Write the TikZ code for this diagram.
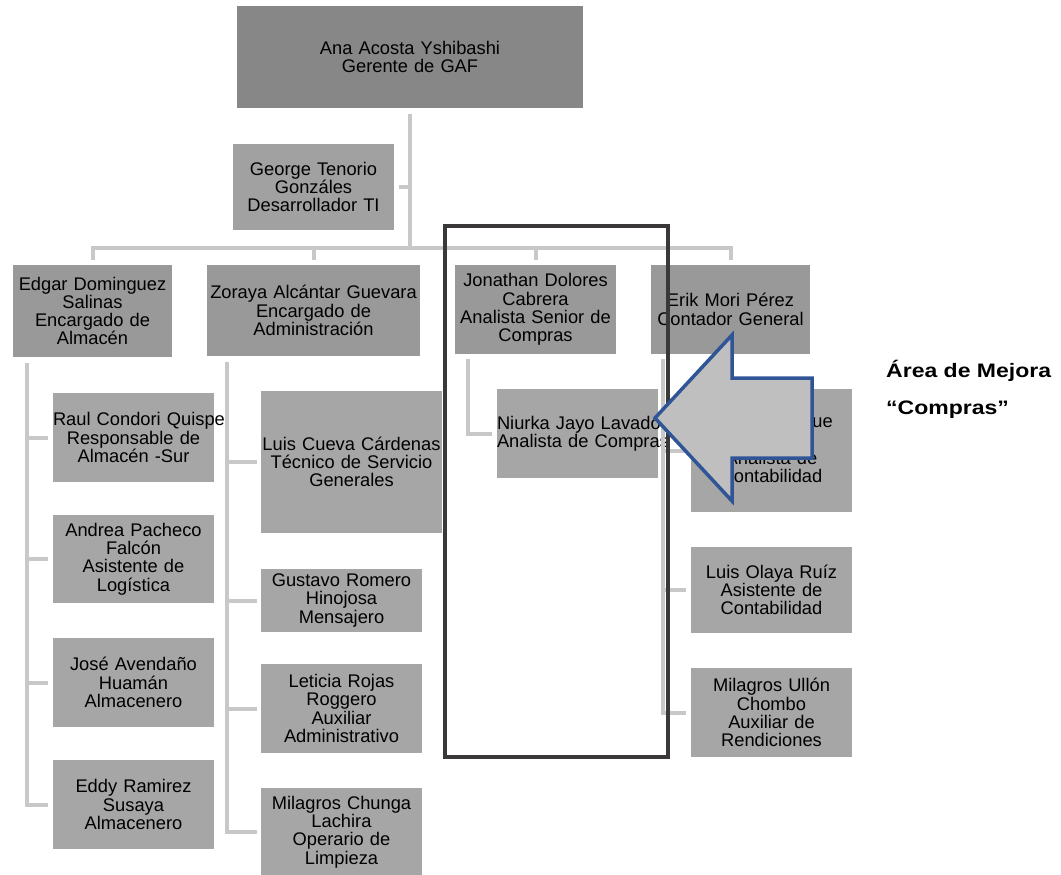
\documentclass[tikz,border=0pt]{standalone}
\usepackage{fontspec}
\setmainfont{Liberation Sans}
\newfontfamily\notefont[FakeStretch=1.18]{Liberation Sans}
\usetikzlibrary{calc}

\definecolor{headgray}{HTML}{878787}
\definecolor{leadgray}{HTML}{999999}
\definecolor{aidegray}{HTML}{A1A1A1}
\definecolor{staffgray}{HTML}{A6A6A6}
\definecolor{linegray}{HTML}{C8C8C8}
\definecolor{framegray}{HTML}{3A3838}
\definecolor{arrowblue}{HTML}{2F5597}
\definecolor{arrowfill}{HTML}{BFBFBF}

% keeps a long line on one row (it may run past its box)
\newcommand\oneline[1]{\mbox{#1}}

\begin{document}
\begin{tikzpicture}[x=1pt,y=-1pt,
  conn/.style={draw=linegray, line width=4pt},
  card/.style={rectangle, inner sep=0pt, align=center, text=black,
    font=\fontsize{18.3}{18.3}\selectfont},
  head/.style={card, fill=headgray},
  lead/.style={card, fill=leadgray},
  aide/.style={card, fill=aidegray},
  staff/.style={card, fill=staffgray},
  frame/.style={draw=framegray, line width=3.5pt, inner sep=0pt},
  bigarrow/.style={draw=arrowblue, fill=arrowfill, line width=3.5pt, line join=miter},
  note/.style={inner sep=0pt, text=black,
    font=\notefont\bfseries\fontsize{19.5}{22}\selectfont},
]
\useasboundingbox (0,0) rectangle (1061,875);

% ---------- boxes ----------
\node[head, text width=346pt, minimum height=102pt] (ana) at (410,57)
  {Ana Acosta Yshibashi\\Gerente de GAF};
\node[aide, text width=161pt, minimum height=86pt] (george) at (313.5,187)
  {George Tenorio\\Gonzáles\\Desarrollador TI};

\node[lead, text width=159pt, minimum height=92pt] (edgar) at (92.5,311)
  {Edgar Dominguez\\Salinas\\Encargado de\\Almacén};
\node[lead, text width=213pt, minimum height=91pt] (zoraya) at (313.5,310.5)
  {Zoraya Alcántar Guevara\\Encargado de\\Administración};
\node[lead, text width=161pt, minimum height=89pt] (jonathan) at (535.5,309.5)
  {Jonathan Dolores\\Cabrera\\Analista Senior de\\Compras};
\node[lead, text width=159pt, minimum height=89pt] (erik) at (730.5,309.5)
  {Erik Mori Pérez\\Contador General};

% Almacén
\node[staff, text width=161pt, minimum height=89pt] (raul) at (133.5,437.5)
  {\oneline{Raul Condori Quispe}\\Responsable de\\Almacén -Sur};
\node[staff, text width=161pt, minimum height=88pt] (andrea) at (133.5,559)
  {Andrea Pacheco\\Falcón\\Asistente de\\Logística};
\node[staff, text width=161pt, minimum height=89pt] (jose) at (133.5,682.5)
  {José Avendaño\\Huamán\\Almacenero};
\node[staff, text width=161pt, minimum height=89pt] (eddy) at (133.5,804.5)
  {Eddy Ramirez\\Susaya\\Almacenero};

% Administración
\node[staff, text width=181pt, minimum height=142pt] (luisc) at (351.5,462)
  {\oneline{Luis Cueva Cárdenas}\\Técnico de Servicio\\Generales};
\node[staff, text width=161pt, minimum height=63pt] (gustavo) at (341.5,600.5)
  {Gustavo Romero\\Hinojosa\\Mensajero};
\node[staff, text width=161pt, minimum height=89pt] (leticia) at (341.5,708.5)
  {Leticia Rojas\\Roggero\\Auxiliar\\Administrativo};
\node[staff, text width=161pt, minimum height=88pt] (milagrosc) at (341.5,832)
  {Milagros Chunga\\Lachira\\Operario de\\Limpieza};

% Compras
\node[staff, text width=161pt, minimum height=89pt] (niurka) at (577.5,433.5)
  {\oneline{Niurka Jayo Lavado}\\\oneline{Analista de Compras}};

% Contabilidad
\node[staff, text width=161pt, minimum height=123pt] (contab) at (771.5,450.5)
  {\hspace*{92pt}que\\\mbox{}\\Analista de\\Contabilidad};
\node[staff, text width=161pt, minimum height=86pt] (luiso) at (771.5,590)
  {Luis Olaya Ruíz\\Asistente de\\Contabilidad};
\node[staff, text width=161pt, minimum height=89pt] (milagrosu) at (771.5,712.5)
  {Milagros Ullón\\Chombo\\Auxiliar de\\Rendiciones};

% ---------- connectors ----------
\coordinate (bar) at ($(ana.south)+(0,140)$);
\draw[conn] ($(ana.south)+(0,6)$) -- (bar);
\draw[conn] ($(george.east)+(5,0)$) -- (george.east -| bar);
\draw[conn] ($(edgar.north)+(0,-5)$) |- (erik.north |- bar) -- ($(erik.north)+(0,-5)$);
\foreach \n in {zoraya,jonathan}
  \draw[conn] (\n.north |- bar) -- ($(\n.north)+(0,-5)$);

% Almacén column
\coordinate (colE) at ($(edgar.south west)+(14,6)$);
\draw[conn] (colE) |- ($(eddy.west)+(-5,0)$);
\foreach \n in {raul,andrea,jose}
  \draw[conn] (colE |- \n.west) -- ($(\n.west)+(-5,0)$);

% Administración column
\coordinate (colZ) at ($(zoraya.south west)+(20,6)$);
\draw[conn] (colZ) |- ($(milagrosc.west)+(-4,0)$);
\foreach \n in {luisc,gustavo,leticia}
  \draw[conn] (colZ |- \n.west) -- ($(\n.west)+(-4,0)$);

% Compras column
\coordinate (colJ) at ($(jonathan.south west)+(13,5)$);
\draw[conn] (colJ) |- ($(niurka.west)+(-5,0)$);

% Contabilidad column
\coordinate (colK) at ($(erik.south west)+(12,5)$);
\draw[conn] (colK) |- ($(milagrosu.west)+(-5,0)$);
\foreach \n in {contab,luiso}
  \draw[conn] (colK |- \n.west) -- ($(\n.west)+(-5,0)$);

% ---------- highlighted area ----------
\node[frame, minimum width=223pt, minimum height=531pt] (focus) at (556.5,491.5) {};

\draw[bigarrow] (655,418) -- (732,335) -- (732,378) -- (812,378)
  -- (812,458) -- (732,458) -- (732,501) -- cycle;

\node[note, anchor=base west] (area) at (886,377) {Área de Mejora};
\node[note, anchor=base west] (compras) at (886,414) {“Compras”};
\end{tikzpicture}
\end{document}
